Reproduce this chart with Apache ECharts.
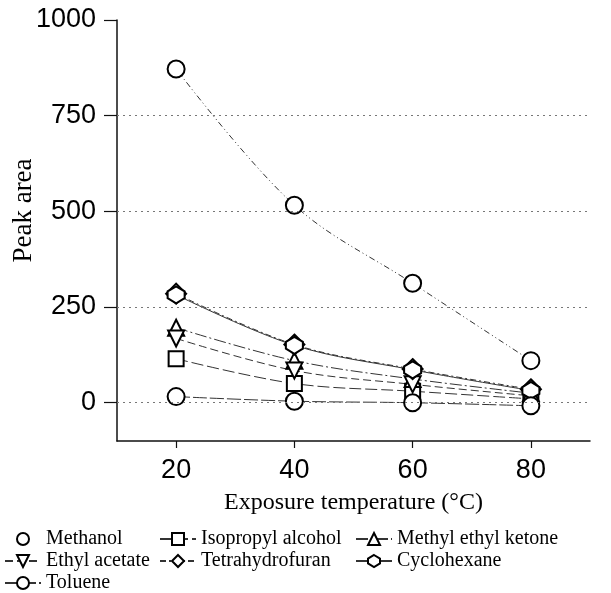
<!DOCTYPE html>
<html>
<head>
<meta charset="utf-8">
<script src="https://cdn.jsdelivr.net/npm/echarts@6/dist/echarts.min.js"></script>
<style>
html,body{margin:0;padding:0;background:#fff;}
#chart{width:611px;height:593px;}
</style>
</head>
<body>
<div id="chart"></div>
<script>
// ---- data ----
const temps = [20, 40, 60, 80];
const methanol = [872, 516, 312, 110];
const isopropylAlcohol = [115, 50, 30, 10];
const methylEthylKetone = [196, 110, 62, 25];
const ethylAcetate = [168, 84, 48, 18];
const tetrahydrofuran = [285, 152, 88, 35];
const cyclohexane = [282, 150, 86, 32];
const toluene = [16, 4, 0, -8];
const yTickValues = [0, 250, 500, 750, 1000];
const yGridValues = [0, 250, 500, 750];
const xTickValues = [20, 40, 60, 80];

const SERIF = '"Liberation Serif","Times New Roman",serif';
const SANS = '"Liberation Sans",Arial,sans-serif';

const downTri = 'path://M0,0L10,0L5,9Z';
const hexagon = 'path://M5,0L10,3L10,7L5,10L0,7L0,3Z';

function pairs(vals) { return temps.map((t, i) => [t, vals[i]]); }

function mk(name, vals, symbol, size, dash) {
  return {
    name: name,
    type: 'line',
    data: pairs(vals),
    smooth: 0.35,
    symbol: symbol,
    symbolSize: size,
    showAllSymbol: true,
    lineStyle: { color: '#333', width: 1, type: dash },
    itemStyle: { color: '#fff', borderColor: '#000', borderWidth: 2 },
    emphasis: { disabled: true },
    z: 3
  };
}

const series = [
  mk('Methanol', methanol, 'circle', 17, [6, 3, 1, 3, 1, 3]),
  mk('Isopropyl alcohol', isopropylAlcohol, 'rect', 15, [12, 4]),
  mk('Methyl ethyl ketone', methylEthylKetone, 'triangle', 16, [12, 3, 2, 3]),
  mk('Ethyl acetate', ethylAcetate, downTri, 16, [8, 4]),
  mk('Tetrahydrofuran', tetrahydrofuran, 'diamond', 20, [6, 3, 2, 3]),
  mk('Cyclohexane', cyclohexane, hexagon, 17, 'solid'),
  mk('Toluene', toluene, 'circle', 17, [14, 3])
];

series.push({
  name: 'grid',
  type: 'line',
  data: [],
  silent: true,
  markLine: {
    silent: true,
    symbol: 'none',
    label: { show: false },
    lineStyle: { color: '#777', type: [2, 4], width: 1 },
    data: yGridValues.map(v => ({ yAxis: v }))
  },
  z: 1
});

const legendText = { fontFamily: SERIF, fontSize: 20, color: '#000' };
function legend(name, left, rowCenter, extra) {
  return Object.assign({
    data: [name],
    orient: 'horizontal',
    left: left,
    top: rowCenter - 11,
    itemWidth: 36,
    itemHeight: 15,
    itemGap: 5,
    padding: 0,
    textStyle: legendText,
    selectedMode: false
  }, extra || {});
}

const option = {
  animation: false,
  backgroundColor: '#fff',
  grid: { left: 117, right: 21, top: 20, bottom: 152, containLabel: false, outerBoundsMode: 'none' },
  legend: [
    legend('Methanol', 4, 540, { lineStyle: { opacity: 0 } }),
    legend('Ethyl acetate', 4, 562),
    legend('Toluene', 4, 584),
    legend('Isopropyl alcohol', 159, 540),
    legend('Tetrahydrofuran', 159, 562),
    legend('Methyl ethyl ketone', 355, 540),
    legend('Cyclohexane', 355, 562)
  ],
  xAxis: {
    type: 'value',
    min: 10,
    max: 90,
    name: 'Exposure temperature (\u00B0C)',
    nameLocation: 'middle',
    nameGap: 50,
    nameMoveOverlap: false,
    nameTextStyle: { fontFamily: SERIF, fontSize: 24, color: '#000' },
    axisLine: { show: true, onZero: false, lineStyle: { color: '#111', width: 1.5 } },
    axisTick: { show: true, inside: false, length: 7, customValues: xTickValues, lineStyle: { color: '#111', width: 1.2 } },
    axisLabel: { show: true, customValues: xTickValues, margin: 16, fontFamily: SANS, fontSize: 27, color: '#000', formatter: v => String(v) },
    splitLine: { show: false }
  },
  yAxis: {
    type: 'value',
    min: -100,
    max: 1000,
    name: 'Peak area',
    nameLocation: 'middle',
    nameGap: 80,
    nameRotate: 90,
    nameMoveOverlap: false,
    nameTextStyle: { fontFamily: SERIF, fontSize: 27, color: '#000', padding: [0, 0, 0, 40] },
    axisLine: { show: true, onZero: false, lineStyle: { color: '#111', width: 1.5 } },
    axisTick: { show: true, inside: false, length: 13, customValues: yTickValues, lineStyle: { color: '#111', width: 1.2 } },
    axisLabel: { show: true, customValues: yTickValues, margin: 21, fontFamily: SANS, fontSize: 27, color: '#000', formatter: v => String(v) },
    splitLine: { show: false }
  },
  series: series
};

const chart = echarts.init(document.getElementById('chart'), null, { renderer: 'canvas' });
chart.setOption(option);
</script>
</body>
</html>
